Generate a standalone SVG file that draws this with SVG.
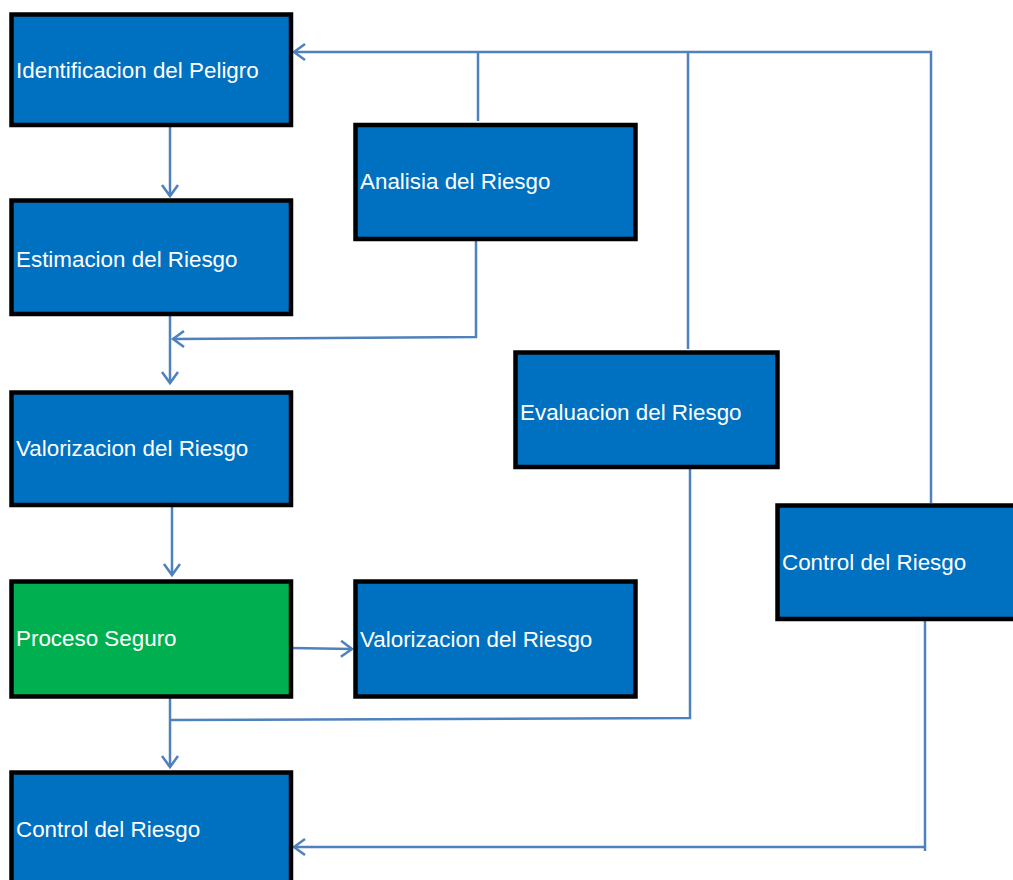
<svg xmlns="http://www.w3.org/2000/svg" width="1013" height="880" viewBox="0 0 1013 880">
<style>
.box{fill:#0070C0;stroke:#000;stroke-width:4.5}
.green{fill:#00B050}
.lbl{font-family:"Liberation Sans",Arial,sans-serif;font-size:22.4px;fill:#fff}
.con{fill:none;stroke:#4F81BD;stroke-width:2.5}
</style>
<defs>
<marker id="ah" markerUnits="userSpaceOnUse" markerWidth="20" markerHeight="20" refX="13" refY="9" orient="auto">
<path d="M2,1 L13,9 L2,17" fill="none" stroke="#4F81BD" stroke-width="2.5"/>
</marker>
</defs>
<rect width="1013" height="880" fill="#fff"/>
<g id="connectors">
<line class="con" x1="170" y1="127" x2="170" y2="196" marker-end="url(#ah)"/>
<line class="con" x1="170" y1="316" x2="170" y2="383" marker-end="url(#ah)"/>
<polyline class="con" points="476,241 476,337 173,339" marker-end="url(#ah)"/>
<line class="con" x1="172" y1="507" x2="172" y2="575" marker-end="url(#ah)"/>
<line class="con" x1="291" y1="648" x2="352" y2="649" marker-end="url(#ah)"/>
<line class="con" x1="170" y1="698" x2="170" y2="767" marker-end="url(#ah)"/>
<polyline class="con" points="690,469 690,718 170,720"/>
<polyline class="con" points="931,503 931,52 294,52" marker-end="url(#ah)"/>
<line class="con" x1="478" y1="52" x2="478" y2="121"/>
<line class="con" x1="688" y1="52" x2="688" y2="349"/>
<polyline class="con" points="925,621 925,851"/>
<line class="con" x1="925" y1="847" x2="294" y2="847" marker-end="url(#ah)"/>
</g>
<g id="n1"><rect class="box" x="11.5" y="14.5" width="279.5" height="110.5"/><text class="lbl" x="16" y="78">Identificacion del Peligro</text></g>
<g id="n2"><rect class="box" x="11.5" y="200.5" width="279.5" height="113.5"/><text class="lbl" x="16" y="267">Estimacion del Riesgo</text></g>
<g id="n3"><rect class="box" x="11.5" y="392.5" width="279.5" height="112.5"/><text class="lbl" x="16" y="456">Valorizacion del Riesgo</text></g>
<g id="n4"><rect class="box green" x="11.5" y="581.5" width="279.5" height="115"/><text class="lbl" x="16" y="646">Proceso Seguro</text></g>
<g id="n5"><rect class="box" x="11.5" y="772.5" width="279.5" height="115"/><text class="lbl" x="16" y="837">Control del Riesgo</text></g>
<g id="n6"><rect class="box" x="355.5" y="125" width="280" height="114"/><text class="lbl" x="360" y="189">Analisia del Riesgo</text></g>
<g id="n7"><rect class="box" x="515.5" y="352.5" width="262" height="114.5"/><text class="lbl" x="520" y="420">Evaluacion del Riesgo</text></g>
<g id="n8"><rect class="box" x="777.5" y="505.5" width="245" height="113.5"/><text class="lbl" x="782" y="570">Control del Riesgo</text></g>
<g id="n9"><rect class="box" x="355.5" y="581.5" width="280" height="115"/><text class="lbl" x="360" y="647">Valorizacion del Riesgo</text></g>
</svg>
